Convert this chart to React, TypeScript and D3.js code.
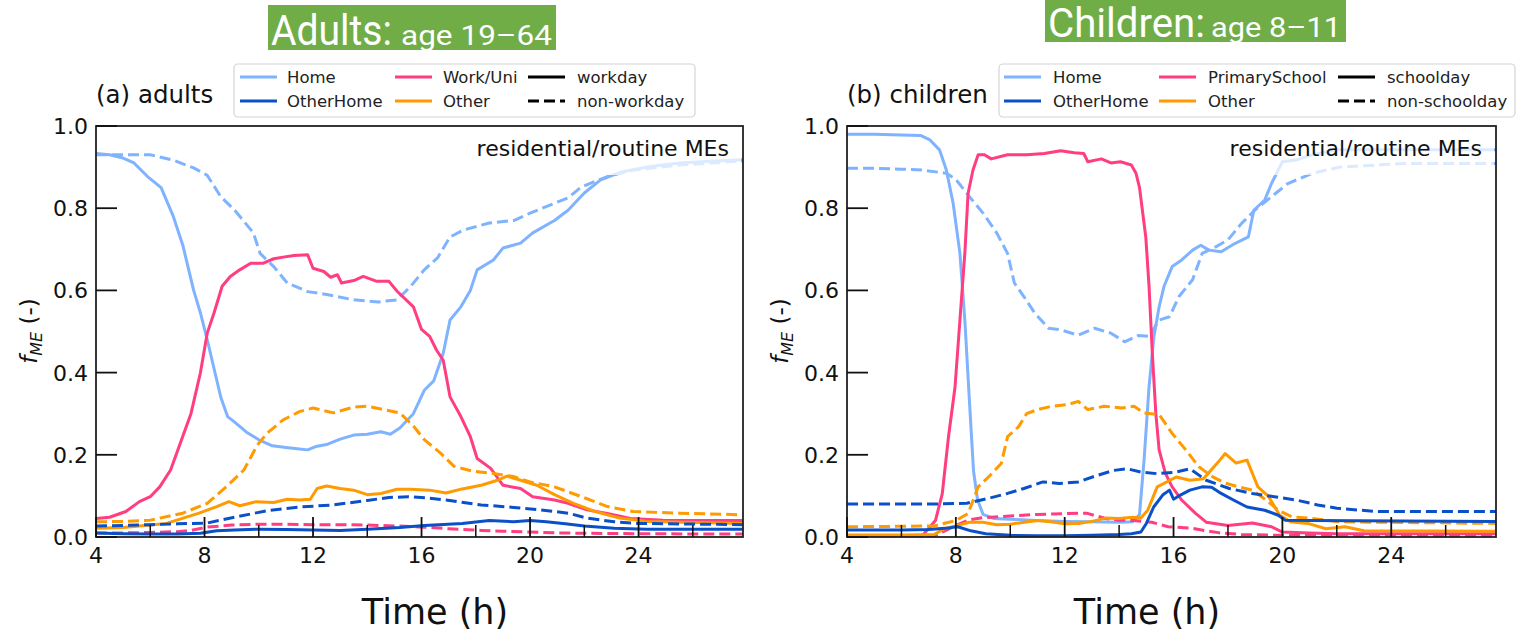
import React from 'react';
import * as d3 from 'd3';

type Pt = [number, number];

// hour of day (4..28) vs fraction of micro-environment f_ME
const hourTicks = [4, 8, 12, 16, 20, 24];
const minorHourTicks = [6, 10, 14, 18, 22, 26];
const fracTicks = [0, 0.2, 0.4, 0.6, 0.8, 1.0];

const adultCategories = ['Home', 'OtherHome', 'Work/Uni', 'Other'];
const childCategories = ['Home', 'OtherHome', 'PrimarySchool', 'Other'];
const adultDayTypes = ['workday', 'non-workday'];
const childDayTypes = ['schoolday', 'non-schoolday'];

// ---- adults ----
const adultsHomeWork: Pt[] = [[4, 0.933], [4.5, 0.93], [5, 0.922], [5.4, 0.91], [5.9, 0.877], [6.4, 0.85], [6.85, 0.78], [7.2, 0.71], [7.6, 0.6], [7.85, 0.545], [8.1, 0.48], [8.35, 0.41], [8.6, 0.34], [8.85, 0.293], [9.1, 0.28], [9.55, 0.255], [10.05, 0.235], [10.5, 0.222], [11, 0.218], [11.5, 0.214], [11.8, 0.212], [12.1, 0.22], [12.5, 0.225], [13, 0.238], [13.5, 0.248], [14, 0.25], [14.5, 0.256], [14.85, 0.25], [15.2, 0.265], [15.7, 0.3], [16.1, 0.357], [16.45, 0.38], [16.8, 0.447], [17.05, 0.528], [17.45, 0.56], [17.8, 0.6], [18.05, 0.65], [18.65, 0.674], [19, 0.703], [19.65, 0.715], [20.1, 0.74], [20.9, 0.77], [21.4, 0.795], [22, 0.837], [22.6, 0.869], [23.35, 0.888], [24.3, 0.9], [25.5, 0.91], [26.8, 0.915], [27.85, 0.918]];
const adultsHomeOff: Pt[] = [[4, 0.93], [5, 0.93], [6, 0.93], [6.85, 0.917], [7.6, 0.898], [8.1, 0.88], [8.6, 0.828], [9.1, 0.796], [9.8, 0.74], [10.05, 0.69], [10.55, 0.658], [11.05, 0.618], [11.8, 0.597], [12.5, 0.59], [13.5, 0.577], [14.4, 0.572], [15.1, 0.577], [15.6, 0.61], [16.1, 0.65], [16.6, 0.68], [17.05, 0.73], [17.55, 0.747], [18.5, 0.764], [19.4, 0.77], [20, 0.788], [20.9, 0.812], [21.4, 0.825], [21.9, 0.852], [22.85, 0.877], [23.8, 0.893], [25.5, 0.905], [27.85, 0.915]];
const adultsOtherHomeWork: Pt[] = [[4, 0.01], [5, 0.008], [6, 0.007], [7, 0.007], [7.85, 0.009], [8.45, 0.015], [9.1, 0.017], [10, 0.019], [11, 0.018], [12, 0.017], [13, 0.016], [14, 0.019], [15.2, 0.023], [16.1, 0.028], [17.5, 0.033], [18.5, 0.04], [19.4, 0.037], [20, 0.04], [20.6, 0.037], [21.3, 0.032], [22, 0.027], [23.1, 0.021], [24.3, 0.019], [27.85, 0.019]];
const adultsOtherHomeOff: Pt[] = [[4, 0.027], [5, 0.028], [6, 0.03], [7, 0.032], [8.1, 0.034], [9.1, 0.048], [10.3, 0.064], [11.5, 0.073], [12.75, 0.078], [14, 0.089], [14.8, 0.096], [15.5, 0.098], [16.2, 0.095], [16.9, 0.09], [18.2, 0.078], [19.4, 0.072], [20.4, 0.066], [21.4, 0.058], [22.1, 0.046], [23.1, 0.037], [24, 0.033], [27.85, 0.03]];
const adultsWorkWork: Pt[] = [[4, 0.045], [4.5, 0.048], [5.1, 0.062], [5.6, 0.086], [6, 0.098], [6.35, 0.122], [6.75, 0.163], [7.15, 0.236], [7.5, 0.3], [7.85, 0.4], [8.1, 0.496], [8.35, 0.545], [8.65, 0.61], [8.95, 0.634], [9.3, 0.65], [9.7, 0.666], [10.15, 0.666], [10.55, 0.677], [10.9, 0.681], [11.3, 0.685], [11.8, 0.687], [12, 0.654], [12.4, 0.646], [12.65, 0.632], [12.9, 0.638], [13.05, 0.618], [13.5, 0.624], [13.85, 0.634], [14.35, 0.622], [14.8, 0.622], [15.1, 0.598], [15.7, 0.56], [16, 0.505], [16.3, 0.488], [16.55, 0.455], [16.8, 0.43], [17.05, 0.341], [17.45, 0.293], [17.8, 0.244], [18.05, 0.191], [18.55, 0.167], [19, 0.126], [19.65, 0.118], [20.1, 0.098], [20.9, 0.09], [21.4, 0.082], [22.1, 0.066], [22.85, 0.057], [23.7, 0.045], [24.9, 0.041], [27.85, 0.04]];
const adultsWorkOff: Pt[] = [[4, 0.01], [5, 0.01], [6, 0.011], [7, 0.013], [7.5, 0.016], [8.1, 0.024], [9, 0.029], [10, 0.031], [11, 0.031], [12, 0.03], [13, 0.03], [14, 0.029], [15, 0.027], [16.1, 0.024], [17, 0.02], [18.2, 0.016], [19, 0.014], [20, 0.012], [21, 0.01], [22, 0.009], [24, 0.008], [27.85, 0.007]];
const adultsOtherWork: Pt[] = [[4, 0.021], [5, 0.023], [6.6, 0.033], [7.8, 0.058], [8.45, 0.074], [8.9, 0.086], [9.3, 0.076], [9.9, 0.086], [10.55, 0.084], [11.05, 0.092], [11.5, 0.09], [11.9, 0.092], [12.15, 0.118], [12.5, 0.124], [13, 0.118], [13.5, 0.114], [14, 0.103], [14.5, 0.106], [15.1, 0.116], [15.6, 0.116], [16.3, 0.114], [16.9, 0.107], [17.5, 0.117], [18.2, 0.126], [18.8, 0.138], [19.15, 0.148], [19.65, 0.138], [20.25, 0.126], [20.9, 0.103], [21.6, 0.082], [22.4, 0.062], [23.3, 0.046], [24.3, 0.038], [27.85, 0.033]];
const adultsOtherOff: Pt[] = [[4, 0.037], [5, 0.038], [6, 0.041], [7.2, 0.058], [8.1, 0.082], [8.8, 0.122], [9.45, 0.163], [9.95, 0.224], [10.3, 0.252], [10.9, 0.285], [11.5, 0.305], [12, 0.314], [12.75, 0.302], [13.5, 0.316], [14, 0.318], [14.6, 0.31], [15.2, 0.302], [15.7, 0.27], [16.1, 0.237], [16.7, 0.204], [17.2, 0.172], [17.9, 0.16], [18.6, 0.155], [19.4, 0.147], [20, 0.134], [20.9, 0.122], [21.9, 0.098], [22.85, 0.074], [23.8, 0.062], [25.5, 0.058], [27.85, 0.054]];

// ---- children ----
const childHomeSchool: Pt[] = [[4, 0.98], [5, 0.98], [6, 0.978], [6.7, 0.977], [7.05, 0.966], [7.4, 0.942], [7.65, 0.893], [7.9, 0.812], [8.15, 0.69], [8.33, 0.528], [8.5, 0.33], [8.65, 0.16], [8.8, 0.09], [9, 0.055], [9.4, 0.045], [10, 0.043], [11, 0.04], [12, 0.038], [13, 0.037], [14, 0.036], [14.5, 0.037], [14.75, 0.055], [14.92, 0.19], [15.1, 0.366], [15.28, 0.488], [15.47, 0.56], [15.65, 0.61], [15.95, 0.658], [16.3, 0.674], [16.7, 0.698], [17, 0.71], [17.3, 0.698], [17.75, 0.694], [18.25, 0.714], [18.75, 0.73], [18.95, 0.795], [19.35, 0.82], [19.6, 0.86], [20, 0.913], [20.5, 0.917], [21.1, 0.93], [22, 0.942], [27.85, 0.942]];
const childHomeFree: Pt[] = [[4, 0.897], [5, 0.897], [6, 0.895], [6.75, 0.893], [7.65, 0.885], [8, 0.87], [8.5, 0.828], [9, 0.788], [9.5, 0.74], [9.9, 0.69], [10.15, 0.618], [10.5, 0.585], [10.9, 0.545], [11.4, 0.508], [11.85, 0.504], [12.5, 0.491], [13.1, 0.508], [13.7, 0.496], [14.2, 0.475], [14.7, 0.49], [15.1, 0.488], [15.47, 0.528], [15.85, 0.536], [16.2, 0.585], [16.7, 0.626], [17.05, 0.69], [17.55, 0.706], [18, 0.723], [18.5, 0.763], [19, 0.796], [19.6, 0.828], [20.2, 0.86], [21.1, 0.885], [22.1, 0.9], [24.5, 0.909], [27.85, 0.909]];
const childOtherHomeSchool: Pt[] = [[4, 0.017], [5, 0.017], [6, 0.017], [7, 0.018], [7.6, 0.021], [8.07, 0.025], [8.55, 0.015], [9.1, 0.008], [10, 0.004], [11, 0.003], [12, 0.003], [13, 0.004], [14, 0.006], [14.45, 0.008], [14.8, 0.012], [15, 0.033], [15.27, 0.073], [15.6, 0.102], [15.85, 0.114], [16, 0.092], [16.25, 0.102], [16.6, 0.114], [17.05, 0.122], [17.4, 0.121], [17.75, 0.106], [18.2, 0.09], [18.7, 0.073], [19.35, 0.065], [19.85, 0.053], [20.1, 0.041], [21, 0.04], [27.85, 0.038]];
const childOtherHomeFree: Pt[] = [[4, 0.08], [5, 0.08], [6, 0.08], [7, 0.08], [8.4, 0.082], [9.2, 0.094], [9.9, 0.106], [10.5, 0.118], [11.2, 0.134], [11.8, 0.13], [12.5, 0.134], [13.2, 0.15], [13.8, 0.162], [14.3, 0.166], [14.8, 0.158], [15.4, 0.154], [16.1, 0.158], [16.6, 0.166], [17.2, 0.138], [18.05, 0.118], [18.9, 0.106], [19.7, 0.098], [20.5, 0.09], [21.3, 0.078], [22, 0.07], [23.45, 0.062], [27.85, 0.062]];
const childSchoolSchool: Pt[] = [[4, 0], [5, 0], [6, 0], [6.75, 0.002], [7.25, 0.04], [7.5, 0.105], [7.73, 0.244], [7.97, 0.365], [8.15, 0.528], [8.33, 0.69], [8.45, 0.836], [8.63, 0.893], [8.82, 0.93], [9.05, 0.93], [9.3, 0.92], [9.9, 0.93], [10.6, 0.93], [11.25, 0.933], [11.85, 0.94], [12.35, 0.935], [12.7, 0.933], [12.85, 0.913], [13.35, 0.92], [13.7, 0.91], [14.05, 0.913], [14.45, 0.905], [14.62, 0.885], [14.75, 0.85], [14.98, 0.73], [15.1, 0.61], [15.22, 0.447], [15.35, 0.3], [15.47, 0.212], [15.7, 0.155], [15.95, 0.122], [16.3, 0.09], [16.8, 0.058], [17.2, 0.036], [18, 0.028], [18.9, 0.034], [19.6, 0.025], [20, 0.012], [21, 0.01], [22, 0.008], [27.85, 0.008]];
const childSchoolFree: Pt[] = [[4, 0], [6, 0], [7.2, 0.002], [7.5, 0.012], [8, 0.028], [8.5, 0.042], [9, 0.047], [10, 0.051], [11, 0.055], [12, 0.057], [12.8, 0.058], [13.5, 0.045], [14, 0.041], [14.5, 0.04], [15.2, 0.036], [15.8, 0.025], [16.6, 0.022], [17.2, 0.015], [17.7, 0.01], [18.5, 0.006], [20, 0.004], [27.85, 0.003]];
const childOtherSchool: Pt[] = [[4, 0.005], [5, 0.005], [6, 0.005], [7.2, 0.006], [7.6, 0.021], [8, 0.027], [8.5, 0.036], [9, 0.036], [9.5, 0.03], [10, 0.031], [10.5, 0.036], [11, 0.04], [11.5, 0.037], [12, 0.032], [12.5, 0.033], [13, 0.038], [13.5, 0.046], [14, 0.045], [14.5, 0.048], [14.8, 0.046], [15.05, 0.065], [15.4, 0.122], [16.1, 0.146], [16.6, 0.138], [17.1, 0.142], [17.7, 0.187], [17.9, 0.203], [18.3, 0.18], [18.7, 0.187], [19.1, 0.122], [19.5, 0.098], [19.9, 0.053], [20.3, 0.037], [21, 0.032], [21.6, 0.02], [22.3, 0.025], [23, 0.015], [27.85, 0.014]];
const childOtherFree: Pt[] = [[4, 0.025], [6, 0.026], [7.2, 0.027], [8, 0.04], [8.45, 0.057], [8.82, 0.122], [9.2, 0.146], [9.67, 0.179], [9.9, 0.244], [10.3, 0.268], [10.6, 0.3], [11, 0.31], [11.5, 0.318], [12.1, 0.322], [12.5, 0.33], [12.85, 0.31], [13.45, 0.318], [14.1, 0.314], [14.55, 0.318], [14.9, 0.302], [15.47, 0.298], [15.95, 0.252], [16.45, 0.212], [16.93, 0.171], [17.42, 0.147], [17.9, 0.131], [18.4, 0.122], [18.9, 0.114], [19.4, 0.09], [19.85, 0.065], [20.35, 0.049], [21.1, 0.045], [22.1, 0.037], [27.85, 0.033]];

// category order: Home, OtherHome, Work/School, Other ; day 0 = solid, 1 = dashed
const adultSeries = [
  { cat: 0, day: 0, pts: adultsHomeWork }, { cat: 0, day: 1, pts: adultsHomeOff },
  { cat: 2, day: 0, pts: adultsWorkWork }, { cat: 2, day: 1, pts: adultsWorkOff },
  { cat: 3, day: 0, pts: adultsOtherWork }, { cat: 3, day: 1, pts: adultsOtherOff },
  { cat: 1, day: 0, pts: adultsOtherHomeWork }, { cat: 1, day: 1, pts: adultsOtherHomeOff },
];
const childSeries = [
  { cat: 0, day: 0, pts: childHomeSchool }, { cat: 0, day: 1, pts: childHomeFree },
  { cat: 2, day: 0, pts: childSchoolSchool }, { cat: 2, day: 1, pts: childSchoolFree },
  { cat: 3, day: 0, pts: childOtherSchool }, { cat: 3, day: 1, pts: childOtherFree },
  { cat: 1, day: 0, pts: childOtherHomeSchool }, { cat: 1, day: 1, pts: childOtherHomeFree },
];

const colors = ['#7fb3ff', '#0a50c8', '#ff3d82', '#ff9a00'];
const DASH = '11,5';
const FONT = "'DejaVu Sans', sans-serif";

const TOP = 126;
const BOTTOM = 537;

function Panel({ left, right, series, categories, dayTypes, tag, legend, xLabelX }) {
  const x = d3.scaleLinear().domain([4, 27.85]).range([left, right]);
  const y = d3.scaleLinear().domain([0, 1]).range([BOTTOM, TOP]);
  const line = d3.line<Pt>().x(d => x(d[0])).y(d => y(d[1]));
  const clipId = `clip-${tag.replace(/\W/g, '')}`;

  // legend layout: [handleX, textX] per column
  const { bx, bw, cols } = legend;
  const rowsY = [77, 101];
  const legendItems = [
    { col: 0, row: 0, color: colors[0], dash: null, label: categories[0] },
    { col: 0, row: 1, color: colors[1], dash: null, label: categories[1] },
    { col: 1, row: 0, color: colors[2], dash: null, label: categories[2] },
    { col: 1, row: 1, color: colors[3], dash: null, label: categories[3] },
    { col: 2, row: 0, color: '#000', dash: null, label: dayTypes[0] },
    { col: 2, row: 1, color: '#000', dash: DASH, label: dayTypes[1] },
  ];

  return (
    <g>
      <defs>
        <clipPath id={clipId}>
          <rect x={left} y={TOP} width={right - left} height={BOTTOM - TOP} />
        </clipPath>
      </defs>

      <g clipPath={`url(#${clipId})`}>
        {series.map((s, i) => (
          <path key={i} d={line(s.pts) || ''} fill="none" stroke={colors[s.cat]}
            strokeWidth={3} strokeDasharray={s.day === 1 ? DASH : undefined}
            strokeLinejoin="round" />
        ))}
        <rect x={right - 292} y={131} width={290} height={44} fill="#fff" opacity={0.72} />
        <text x={right - 14} y={156} textAnchor="end" fontFamily={FONT} fontSize={22} fill="#111">
          residential/routine MEs
        </text>
      </g>

      {/* spines */}
      <rect x={left} y={TOP} width={right - left} height={BOTTOM - TOP} fill="none" stroke="#222" strokeWidth={1.8} />

      {/* y ticks */}
      {fracTicks.map(t => (
        <g key={t}>
          <line x1={left} x2={left + 21} y1={y(t)} y2={y(t)} stroke="#111" strokeWidth={1.8} />
          <text x={left - 8} y={y(t)} dy="0.36em" textAnchor="end" fontFamily={FONT} fontSize={22} fill="#111">
            {t.toFixed(1)}
          </text>
        </g>
      ))}

      {/* x ticks */}
      {hourTicks.map(t => (
        <g key={t}>
          <line x1={x(t)} x2={x(t)} y1={BOTTOM} y2={BOTTOM - 20} stroke="#111" strokeWidth={1.8} />
          <text x={x(t)} y={563} textAnchor="middle" fontFamily={FONT} fontSize={22} fill="#111">{t}</text>
        </g>
      ))}
      {minorHourTicks.map(t => (
        <line key={t} x1={x(t)} x2={x(t)} y1={BOTTOM} y2={BOTTOM - 12} stroke="#111" strokeWidth={1.5} />
      ))}

      <text x={xLabelX} y={624} textAnchor="middle" fontFamily={FONT} fontSize={35} fill="#111">Time (h)</text>

      <text transform={`translate(${left - 59},${331}) rotate(-90)`} textAnchor="middle" fontFamily={FONT} fontSize={23} fill="#111">
        <tspan fontStyle="italic">f</tspan>
        <tspan fontStyle="italic" fontSize={16} dy={5}>ME</tspan>
        <tspan dy={-5}> (-)</tspan>
      </text>

      <text x={left} y={103} fontFamily={FONT} fontSize={24.5} fill="#111">{tag}</text>

      {/* legend */}
      <rect x={bx} y={64} width={bw} height={53} rx={4} fill="#fff" stroke="#d4d4d4" strokeWidth={1.2} />
      {legendItems.map((it, i) => (
        <g key={i}>
          <line x1={cols[it.col][0]} x2={cols[it.col][0] + 37} y1={rowsY[it.row]} y2={rowsY[it.row]}
            stroke={it.color} strokeWidth={3.2} strokeDasharray={it.dash || undefined} />
          <text x={cols[it.col][1]} y={rowsY[it.row]} dy="0.36em" fontFamily={FONT} fontSize={16.5} fill="#222">
            {it.label}
          </text>
        </g>
      ))}
    </g>
  );
}

function Banner({ x, y, w, h, big, small, bigW, smallX, smallW, baseline, bigSize, smallSize }) {
  return (
    <g>
      <rect x={x} y={y} width={w} height={h} fill="#70ad47" />
      <text x={x + 3} y={baseline} fontFamily="Roboto, 'Liberation Sans Narrow', sans-serif" fontWeight={400}
        fontSize={bigSize} fill="#fff" textLength={bigW} lengthAdjust="spacingAndGlyphs">{big}</text>
      <text x={smallX} y={baseline} fontFamily="Roboto, 'Liberation Sans Narrow', sans-serif" fontWeight={400}
        fontSize={smallSize} fill="#fff" textLength={smallW} lengthAdjust="spacingAndGlyphs">{small}</text>
    </g>
  );
}

export default function App() {
  return (
    <div style={{ position: 'fixed', left: 0, top: 0, background: '#fff' }}>
      <svg width={1519} height={638} style={{ display: 'block' }}>
        <rect width={1519} height={638} fill="#fff" />
        <Banner x={268} y={5} w={288} h={45} big="Adults:" small="age 19–64" bigW={121} smallX={401}
          smallW={151} baseline={45} bigSize={42} smallSize={28} />
        <Banner x={1045} y={0} w={301} h={42} big="Children:" small="age 8–11" bigW={157} smallX={1211}
          smallW={130} baseline={37} bigSize={41} smallSize={27} />
        <Panel left={96} right={743} series={adultSeries} categories={adultCategories}
          dayTypes={adultDayTypes} tag="(a) adults" xLabelX={435}
          legend={{ bx: 234, bw: 461, cols: [[240, 287], [395, 443], [528, 577]] }} />
        <Panel left={847} right={1496} series={childSeries} categories={childCategories}
          dayTypes={childDayTypes} tag="(b) children" xLabelX={1147}
          legend={{ bx: 999, bw: 516, cols: [[1004, 1053], [1159, 1208], [1338, 1387]] }} />
      </svg>
    </div>
  );
}
